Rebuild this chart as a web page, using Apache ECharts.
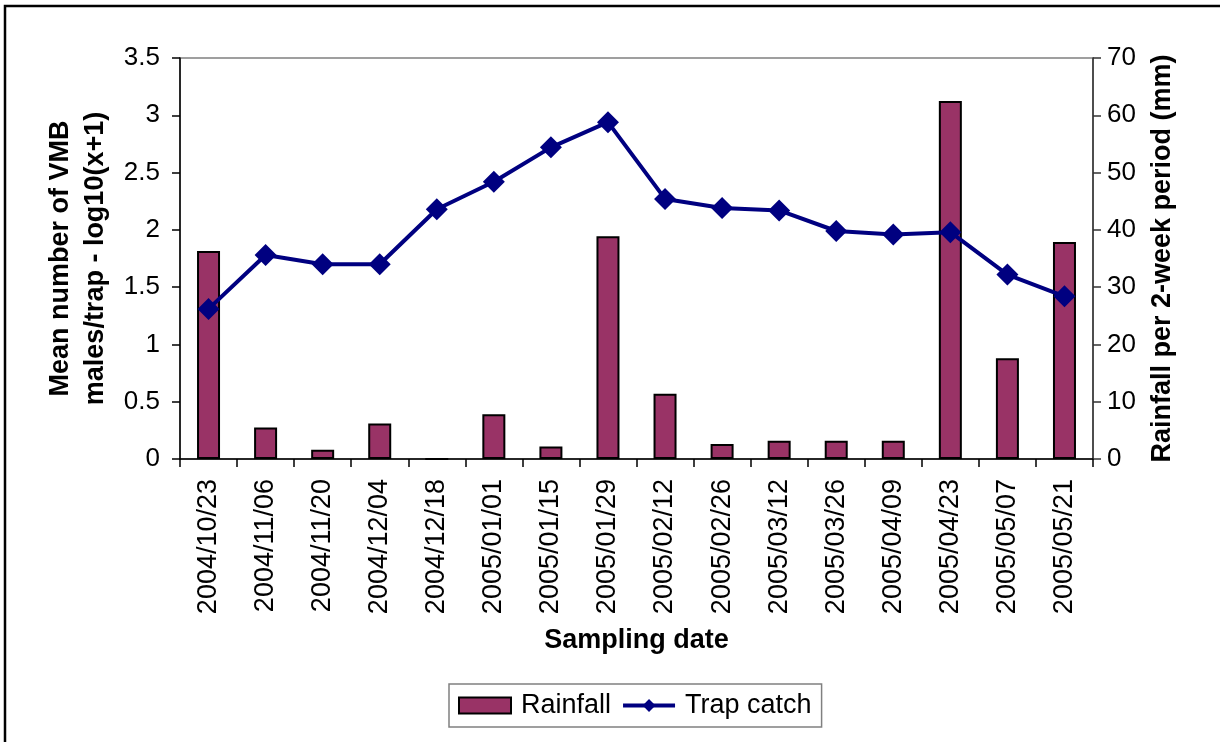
<!DOCTYPE html>
<html>
<head>
<meta charset="utf-8">
<script src="https://cdn.jsdelivr.net/npm/echarts@6/dist/echarts.min.js"></script>
<style>
  html, body { margin: 0; padding: 0; background: #ffffff; }
  #chart { width: 1220px; height: 742px; }
</style>
</head>
<body>
<div id="chart"></div>
<script>
// sampling dates (x axis)
const dates = ['2004/10/23', '2004/11/06', '2004/11/20', '2004/12/04', '2004/12/18', '2005/01/01',
  '2005/01/15', '2005/01/29', '2005/02/12', '2005/02/26', '2005/03/12', '2005/03/26',
  '2005/04/09', '2005/04/23', '2005/05/07', '2005/05/21'];
// rainfall per 2-week period, mm (right axis)
const rainfall = [36.3, 5.5, 1.6, 6.2, 0, 7.8, 2.2, 38.9, 11.4, 2.6, 3.2, 3.2, 3.2, 62.5, 17.6, 37.9];
// mean trap catch, log10(x+1) (left axis)
const trapCatch = [1.31, 1.78, 1.70, 1.70, 2.18, 2.42, 2.72, 2.94, 2.27, 2.19, 2.17, 1.99, 1.96, 1.98, 1.61, 1.42];

const font = 'Liberation Sans, Arial, sans-serif';

const chart = echarts.init(document.getElementById('chart'));

const option = {
  animation: false,
  backgroundColor: '#ffffff',
  textStyle: { fontFamily: font, color: '#000' },
  graphic: [{
    type: 'rect',
    shape: { x: 5, y: 6, width: 1240, height: 760 },
    style: { fill: 'none', stroke: '#000', lineWidth: 2.5 },
    silent: true
  }],
  grid: {
    left: 180, right: 127, top: 58, bottom: 283,
    show: true, borderColor: '#808080', borderWidth: 1.5,
    containLabel: false
  },
  legend: {
    left: 449, top: 684,
    padding: [8, 10, 8, 9],
    itemGap: 10,
    itemWidth: 52, itemHeight: 16,
    borderColor: '#808080', borderWidth: 1.5,
    textStyle: { fontSize: 27, fontFamily: font, color: '#000', padding: [0, 0, 0, 5] },
    data: [
      { name: 'Rainfall', icon: 'rect' },
      { name: 'Trap catch', lineStyle: { width: 4, color: '#000080' } }
    ]
  },
  xAxis: {
    type: 'category',
    data: dates,
    boundaryGap: true,
    name: 'Sampling date',
    nameLocation: 'middle',
    nameGap: 168,
    nameTextStyle: { fontSize: 27, fontWeight: 'bold', fontFamily: font, color: '#000' },
    axisLine: { lineStyle: { color: '#000', width: 1.5 } },
    axisTick: { show: true, length: 8, interval: 0, lineStyle: { color: '#000', width: 1.5 } },
    axisLabel: { rotate: 90, interval: 0, margin: 20, fontSize: 27, fontFamily: font, color: '#000' },
    splitLine: { show: false }
  },
  yAxis: [
    {
      type: 'value',
      min: 0, max: 3.5, interval: 0.5,
      position: 'left',
      name: 'Mean number of VMB\nmales/trap - log10(x+1)',
      nameLocation: 'middle',
      nameGap: 66,
      nameTextStyle: { fontSize: 27, fontWeight: 'bold', fontFamily: font, color: '#000', lineHeight: 35 },
      axisLine: { show: true, lineStyle: { color: '#000', width: 1.5 } },
      axisTick: { show: true, length: 8, lineStyle: { color: '#000', width: 1.5 } },
      axisLabel: { margin: 20, fontSize: 26, fontFamily: font, color: '#000' },
      splitLine: { show: false }
    },
    {
      type: 'value',
      min: 0, max: 70, interval: 10,
      position: 'right',
      name: 'Rainfall per 2-week period (mm)',
      nameLocation: 'middle',
      nameGap: 56,
      nameTextStyle: { fontSize: 27, fontWeight: 'bold', fontFamily: font, color: '#000' },
      axisLine: { show: true, lineStyle: { color: '#333', width: 1.5 } },
      axisTick: { show: true, length: 8, lineStyle: { color: '#333', width: 1.5 } },
      axisLabel: { margin: 14, fontSize: 26, fontFamily: font, color: '#000' },
      splitLine: { show: false }
    }
  ],
  series: [
    {
      name: 'Rainfall',
      type: 'bar',
      yAxisIndex: 1,
      data: rainfall,
      barWidth: 23,
      itemStyle: { color: '#993366', borderColor: '#000', borderWidth: 2 }
    },
    {
      name: 'Trap catch',
      type: 'line',
      yAxisIndex: 0,
      data: trapCatch,
      symbol: 'diamond',
      symbolSize: 22,
      lineStyle: { color: '#000080', width: 4 },
      itemStyle: { color: '#000080' }
    }
  ]
};

chart.setOption(option);
</script>
</body>
</html>
